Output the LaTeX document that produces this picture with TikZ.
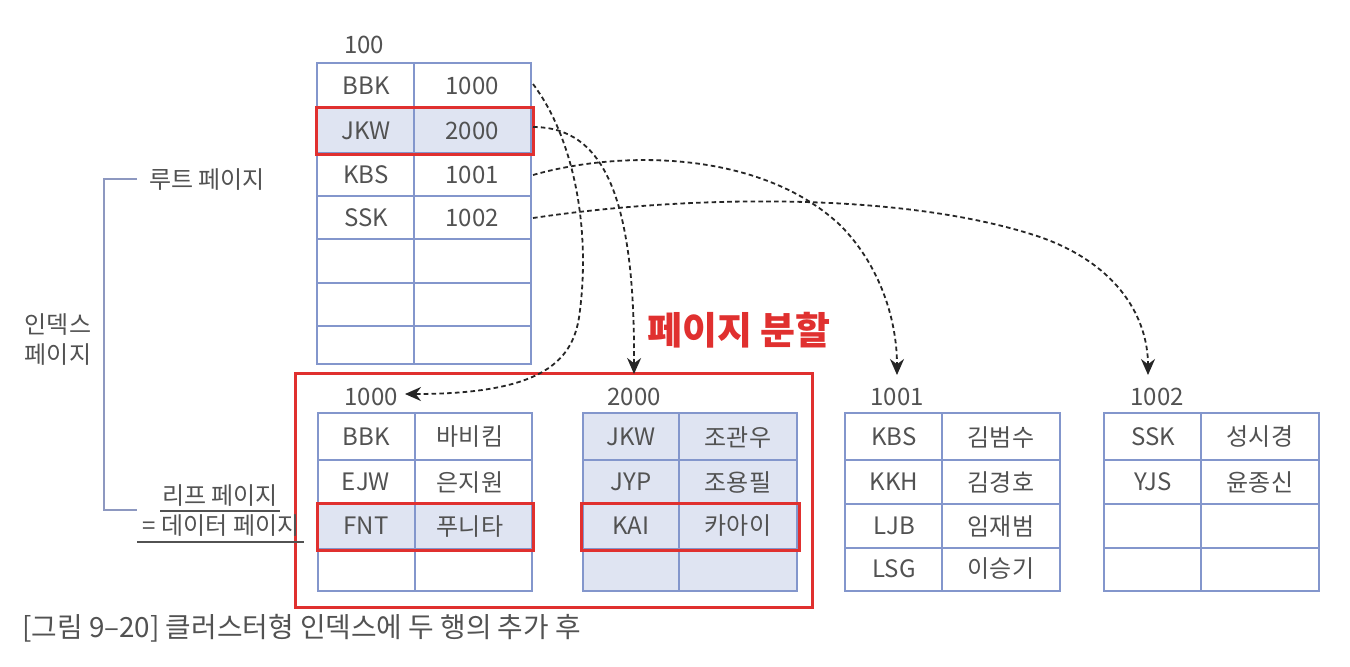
\documentclass[tikz,border=0pt]{standalone}
\usepackage{fontspec}
\setmainfont{Noto Sans CJK KR}
\usetikzlibrary{arrows.meta}
\definecolor{tblue}{HTML}{8396CC}
\definecolor{cfill}{HTML}{DFE4F2}
\definecolor{hred}{HTML}{E0302F}
\definecolor{txt}{HTML}{525252}
\definecolor{brk}{HTML}{8D98C0}
\tikzset{
  tline/.style={draw=tblue, line width=0.8pt},
  redbox/.style={draw=hred, line width=1.5pt},
  cell/.style={text=txt, font=\fontsize{12}{13}\selectfont, inner sep=0pt},
  lbl/.style={text=txt, font=\fontsize{12}{13}\selectfont, inner sep=0pt},
  ptr/.style={draw=black!85, line width=0.9pt, dash pattern=on 2.3pt off 1.6pt,
     -{Stealth[length=8pt,width=7pt,inset=2.6pt]}},
}
\begin{document}
\begin{tikzpicture}[x=0.5pt,y=-0.5pt]
\useasboundingbox[fill=white] (0,0) rectangle (1350,666);

% ---------- root page 100 ----------
\node[lbl] (l100) at (364,45) {100};
\fill[cfill] (317,108) rectangle (531,153);
\draw[tline] (317,63) rectangle (531,364);
\draw[tline] (414,63) -- (414,364);
\foreach \y in {108,153,196,239,283,326} \draw[tline] (317,\y) -- (531,\y);
\draw[redbox] (316,107) rectangle (533,154);
\node[cell] (r1k) at (366,86) {BBK};  \node[cell] (r1v) at (472,86) {1000};
\node[cell] (r2k) at (366,131) {JKW}; \node[cell] (r2v) at (472,131) {2000};
\node[cell] (r3k) at (366,175) {KBS}; \node[cell] (r3v) at (472,175) {1001};
\node[cell] (r4k) at (366,218) {SSK}; \node[cell] (r4v) at (472,218) {1002};
\coordinate (r1e) at (533,84);
\coordinate (r2e) at (533,127);
\coordinate (r3e) at (533,175);
\coordinate (r4e) at (533,218);

% ---------- split box ----------
\draw[redbox] (295,373) rectangle (812,607);
\node[text=hred, font=\fontsize{19}{21}\selectfont\bfseries, inner sep=0pt] (split) at (739,330) {페이지 분할};

% ---------- leaf 1000 ----------
\node[lbl] (l1000) at (371,397) {1000};
\fill[cfill] (318,504) rectangle (532,549);
\draw[tline] (318,413) rectangle (532,591);
\draw[tline] (415,413) -- (415,591);
\foreach \y in {460,504,549} \draw[tline] (318,\y) -- (532,\y);
\draw[redbox] (317,503) rectangle (533,550);
\node[cell] (a1k) at (366,437) {BBK}; \node[cell] (a1v) at (470,437) {바비킴};
\node[cell] (a2k) at (366,482) {EJW}; \node[cell] (a2v) at (470,482) {은지원};
\node[cell] (a3k) at (366,526) {FNT}; \node[cell] (a3v) at (470,526) {푸니타};

% ---------- leaf 2000 ----------
\node[lbl] (l2000) at (634,397) {2000};
\fill[cfill] (583,413) rectangle (797,591);
\draw[tline] (583,413) rectangle (797,591);
\draw[tline] (679,413) -- (679,591);
\foreach \y in {460,504,549} \draw[tline] (583,\y) -- (797,\y);
\draw[redbox] (581,503) rectangle (799,550);
\node[cell] (b1k) at (631,437) {JKW}; \node[cell] (b1v) at (738,437) {조관우};
\node[cell] (b2k) at (631,482) {JYP}; \node[cell] (b2v) at (738,482) {조용필};
\node[cell] (b3k) at (631,526) {KAI}; \node[cell] (b3v) at (738,526) {카아이};

% ---------- leaf 1001 ----------
\node[lbl] (l1001) at (897,397) {1001};
\draw[tline] (845,413) rectangle (1060,591);
\draw[tline] (942,413) -- (942,591);
\foreach \y in {460,504,548} \draw[tline] (845,\y) -- (1060,\y);
\node[cell] (c1k) at (894,437) {KBS}; \node[cell] (c1v) at (1001,437) {김범수};
\node[cell] (c2k) at (894,482) {KKH}; \node[cell] (c2v) at (1001,482) {김경호};
\node[cell] (c3k) at (894,526) {LJB}; \node[cell] (c3v) at (1001,526) {임재범};
\node[cell] (c4k) at (894,569) {LSG}; \node[cell] (c4v) at (1001,569) {이승기};

% ---------- leaf 1002 ----------
\node[lbl] (l1002) at (1157,397) {1002};
\draw[tline] (1104,413) rectangle (1319,591);
\draw[tline] (1201,413) -- (1201,591);
\foreach \y in {460,504,548} \draw[tline] (1104,\y) -- (1319,\y);
\node[cell] (d1k) at (1153,437) {SSK}; \node[cell] (d1v) at (1260,437) {성시경};
\node[cell] (d2k) at (1153,482) {YJS}; \node[cell] (d2v) at (1260,482) {윤종신};

% ---------- arrow targets ----------
\coordinate (t1000) at (405,394);
\coordinate (t2000) at (634,374);
\coordinate (t1001) at (897,375);
\coordinate (t1002) at (1148,375);

% ---------- pointers ----------
\draw[ptr] (r1e) .. controls (575,140) and (590,230) .. (580,310)
                 .. controls (575,360) and (545,394) .. (t1000);
\draw[ptr] (r2e) .. controls (605,127) and (635,200) .. (t2000);
\draw[ptr] (r3e) .. controls (620,150) and (760,150) .. (840,225)
                 .. controls (880,265) and (897,320) .. (t1001);
\draw[ptr] (r4e) .. controls (680,196) and (900,190) .. (1040,237)
                 .. controls (1120,265) and (1148,320) .. (t1002);

% ---------- left bracket and labels ----------
\coordinate (bt) at (104,179);
\coordinate (bb) at (104,510);
\draw[brk, line width=0.9pt] (137,179) -- (bt) -- (bb) -- (137,510);
\node[lbl] (root) at (207,180) {루트 페이지};
\node[lbl, align=center] (idx) at (58,340) {인덱스\\[2pt]페이지};
\node[lbl] (leaf) at (220,496) {리프 페이지};
\node[lbl] (data) at (221,526) {= 데이터 페이지};
\draw[txt, line width=0.7pt] (160,511) -- (280,511);
\draw[txt, line width=0.7pt] (137,542) -- (304,542);

% ---------- caption ----------
\node[text=txt, font=\fontsize{13.9}{15}\selectfont, inner sep=0pt, anchor=west] (cap) at (22,628) {[그림 9–20] 클러스터형 인덱스에 두 행의 추가 후};
\end{tikzpicture}
\end{document}
